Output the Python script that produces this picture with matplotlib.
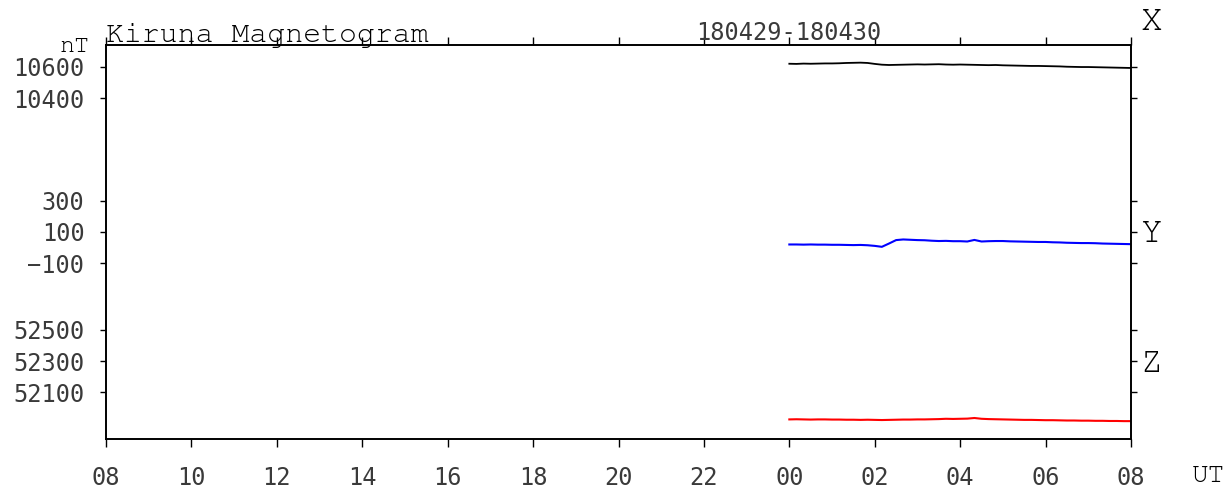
import matplotlib; matplotlib.use("Agg")
import matplotlib.pyplot as plt
import numpy as np

# 10-minute samples, 00:00-08:00 UT on 180430
minutes = np.arange(0, 481, 10)
x_nt = [10619, 10618, 10620, 10619, 10620, 10621,
        10621, 10622, 10624, 10625, 10626, 10624,
        10618, 10613, 10611, 10612, 10613, 10614,
        10615, 10614, 10615, 10616, 10614, 10613,
        10614, 10613, 10612, 10611, 10610, 10611,
        10609, 10608, 10607, 10606, 10605, 10605,
        10604, 10603, 10602, 10600, 10599, 10598,
        10598, 10597, 10596, 10595, 10594, 10593,
        10592]
y_nt = [19, 19, 18, 19, 18, 18,
        17, 17, 16, 15, 16, 14,
        10, 4, 25, 47, 51, 49,
        47, 46, 43, 41, 42, 40,
        40, 38, 48, 38, 40, 41,
        41, 39, 38, 37, 36, 35,
        35, 33, 32, 30, 29, 28,
        28, 27, 25, 24, 23, 22,
        21]
z_nt = [51927, 51928, 51927, 51926, 51927, 51927,
        51926, 51926, 51925, 51925, 51924, 51925,
        51924, 51923, 51924, 51925, 51926, 51926,
        51927, 51927, 51928, 51929, 51931, 51930,
        51931, 51932, 51936, 51931, 51929, 51928,
        51927, 51926, 51925, 51924, 51924, 51923,
        51922, 51922, 51921, 51920, 51920, 51919,
        51919, 51918, 51918, 51917, 51917, 51916,
        51916]

x_ticks = [10600, 10400]
y_ticks = [300, 100, -100]
z_ticks = [52500, 52300, 52100]
hour_labels = ["08", "10", "12", "14", "16", "18", "20", "22",
               "00", "02", "04", "06", "08"]

# stacking offsets (nT) so the three components share one axis
OFF = {"X": -8224, "Y": 1221, "Z": -51805}
TOP = 2518
START = 16  # 00 UT sits 16 h after the 08 UT left edge

fig = plt.figure(figsize=(12.29, 4.88), dpi=100)
ax = fig.add_axes([106 / 1229, 1 - 438.5 / 488, 1025 / 1229, 394 / 488])

t = minutes / 60 + START
ax.plot(t, np.array(x_nt) + OFF["X"], color="black", lw=1.3)
ax.plot(t, np.array(y_nt) + OFF["Y"], color="blue", lw=1.5)
ax.plot(t, np.array(z_nt) + OFF["Z"], color="red", lw=1.5)

ax.set_xlim(0, 24)
ax.set_ylim(0, TOP)
ax.set_xticks(range(0, 25, 2))
ax.set_xticklabels(hour_labels)
yt = [v + OFF["X"] for v in x_ticks] + [v + OFF["Y"] for v in y_ticks] + \
     [v + OFF["Z"] for v in z_ticks]
ax.set_yticks(yt)
ax.set_yticklabels([str(v).replace("-", "\u2212") for v in x_ticks + y_ticks + z_ticks])

mono = "DejaVu Sans Mono"
cour = ["Nimbus Mono PS", "FreeMono", "Courier New", "Liberation Mono"]
for lab in ax.get_xticklabels() + ax.get_yticklabels():
    lab.set_fontfamily(mono)
    lab.set_fontsize(17)
    lab.set_color("#3a3a3a")
ax.tick_params(axis="x", which="both", direction="out", length=5.5, width=1,
               top=True, bottom=True, labeltop=False, pad=14)
ax.tick_params(axis="y", which="both", direction="out", length=4.5, width=1,
               left=True, right=True, labelright=False, pad=11)
for s in ax.spines.values():
    s.set_linewidth(1.4)

fig.text(106 / 1229, 1 - 42 / 488, "Kiruna Magnetogram", family=cour,
         fontsize=21.5, ha="left", va="baseline")
fig.text(789 / 1229, 1 - 40 / 488, "180429-180430", family=mono,
         fontsize=17, ha="center", va="baseline", color="#3a3a3a")
fig.text(90 / 1229, 1 - 52 / 488, "nT", family=cour, fontsize=18,
         ha="right", va="baseline")
fig.text(1192 / 1229, 1 - 476 / 488, "UT", family=cour, fontsize=20,
         ha="left", va="center")
for name, yy in (("X", 23), ("Y", 235), ("Z", 364)):
    fig.text(1140 / 1229, 1 - yy / 488, name, family=cour, fontsize=26,
             ha="left", va="center")

fig.savefig("out.png", dpi=100)
